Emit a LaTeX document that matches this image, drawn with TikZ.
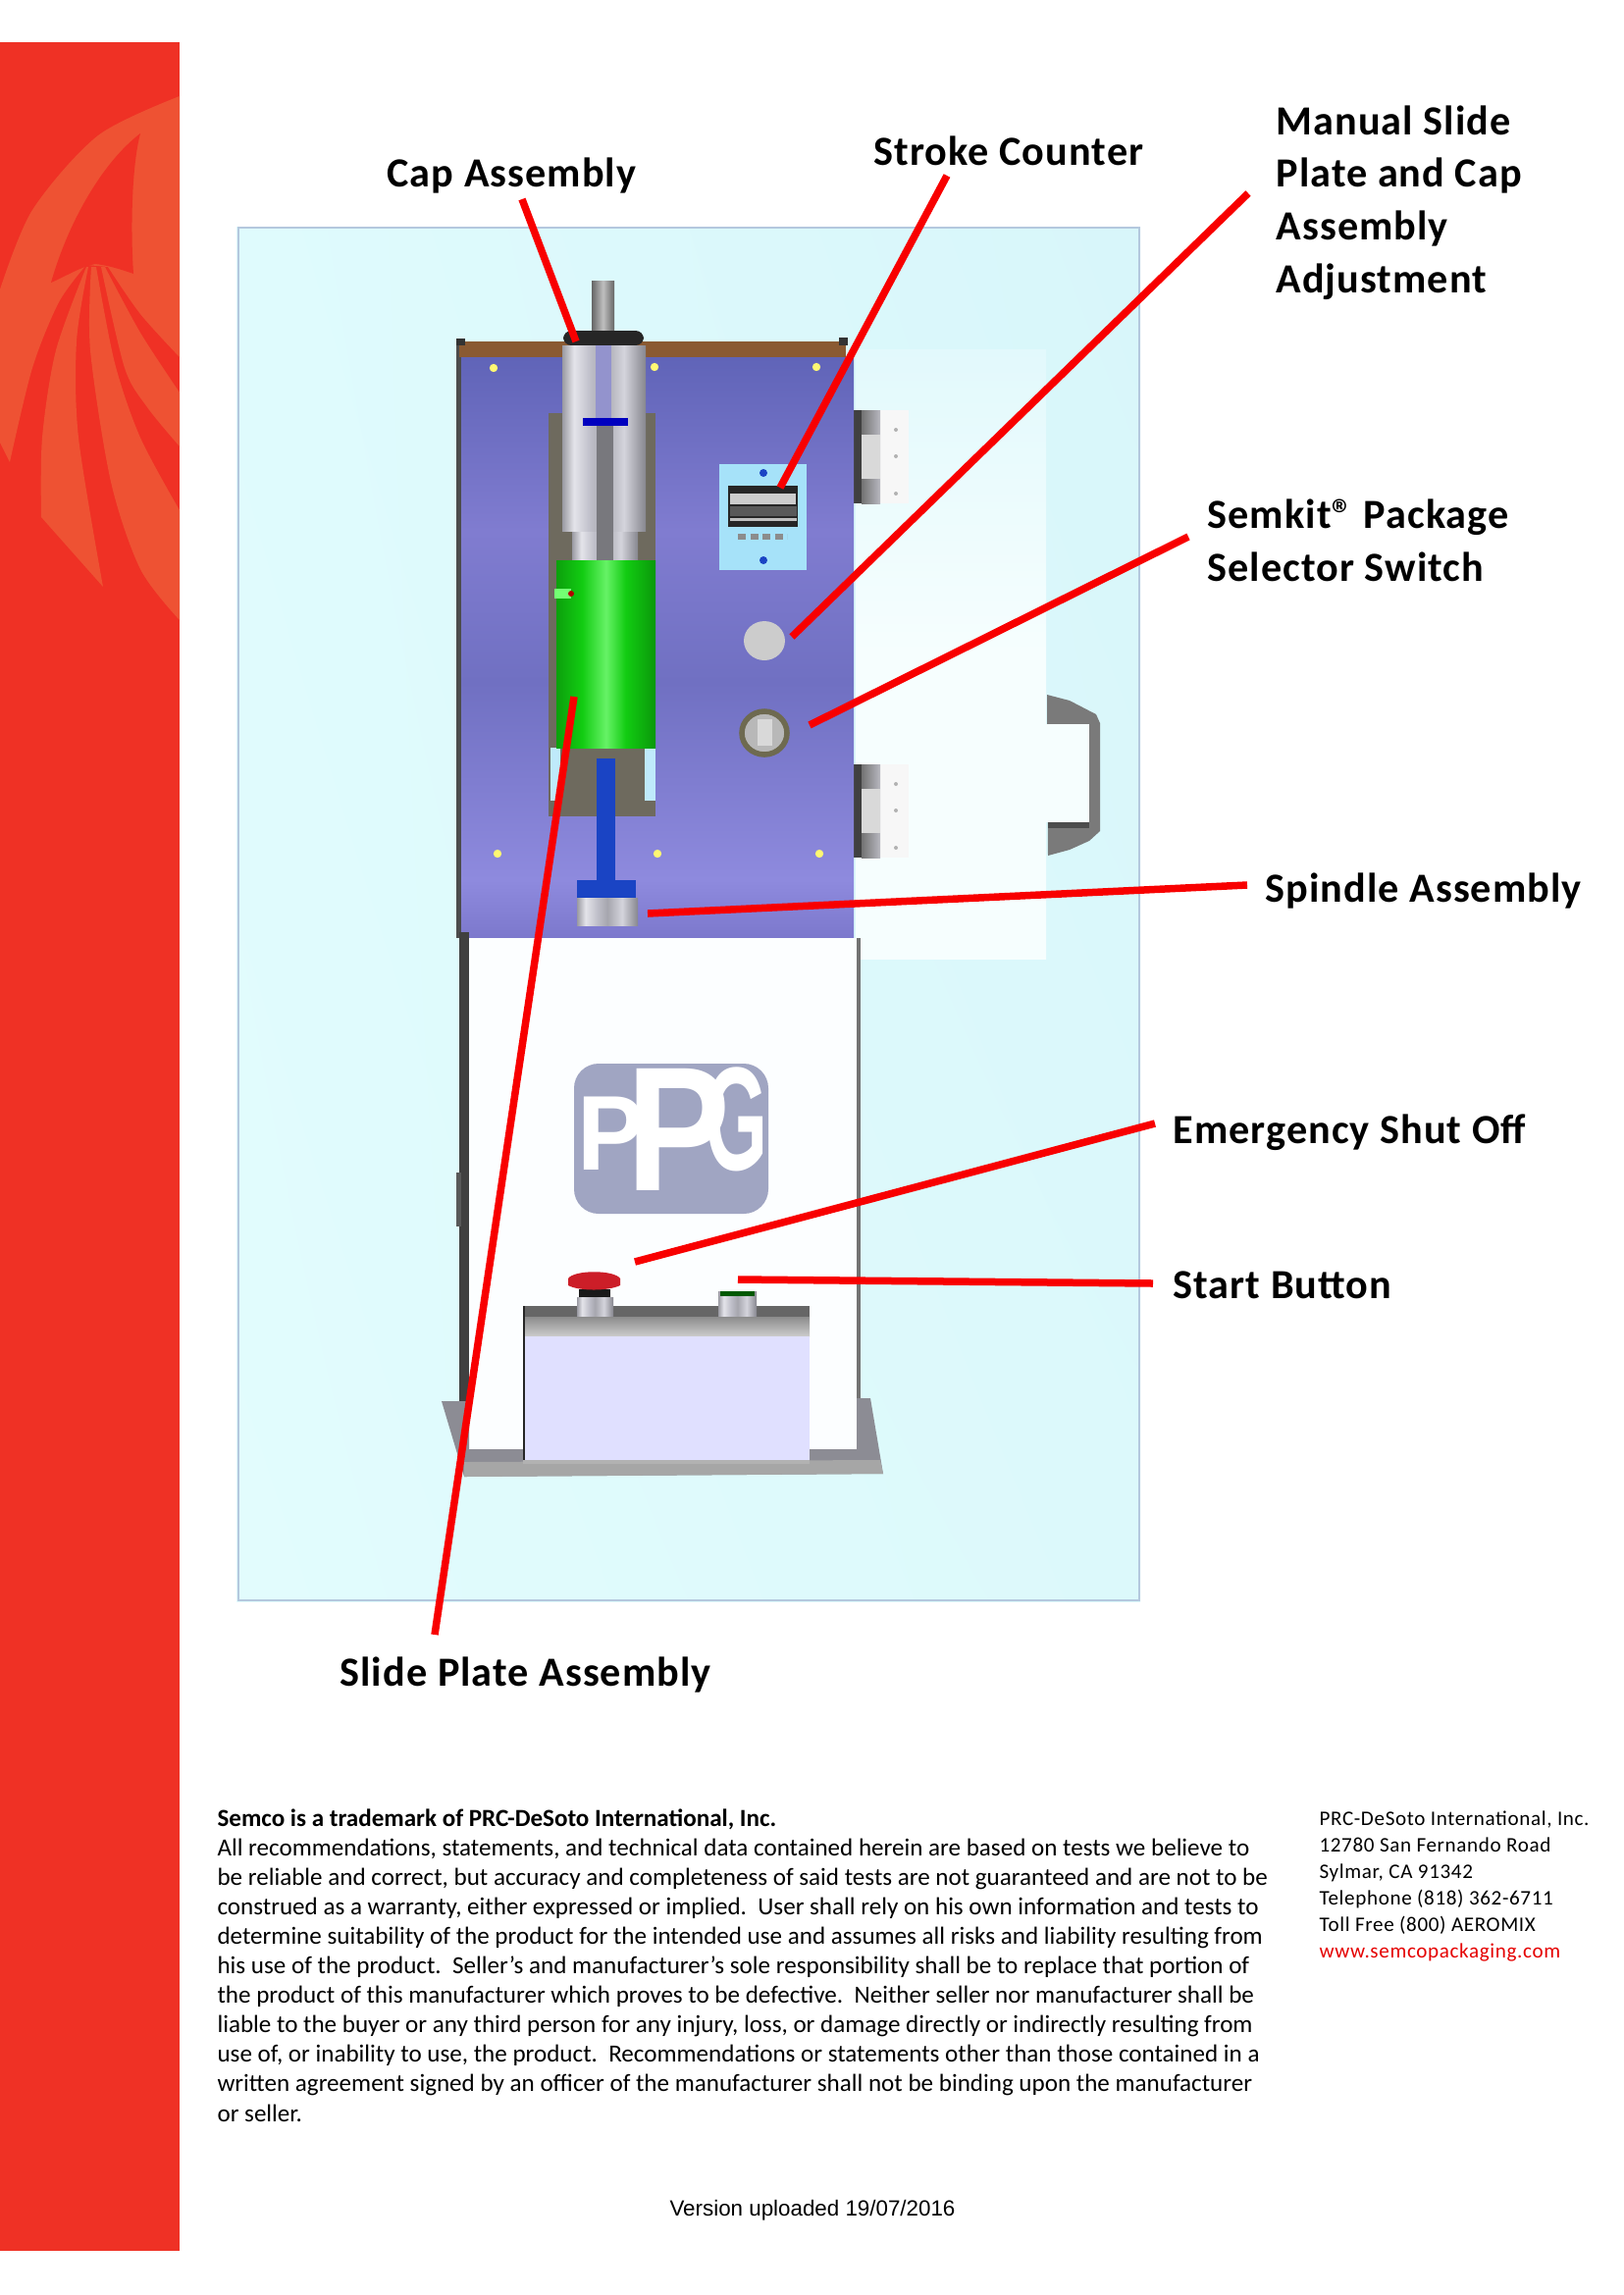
\documentclass[tikz,border=0pt]{standalone}
\usepackage{fontspec}
\usetikzlibrary{shadings}
\setmainfont{Carlito}
\newfontfamily\calloutfont[LetterSpace=2.5]{Carlito}
\newfontfamily\addressfont[LetterSpace=3]{Carlito}
\newfontfamily\versionfont{Liberation Sans}
\definecolor{bandred}{HTML}{EF3125}
\definecolor{bandlight}{HTML}{EE5233}
\definecolor{leadred}{HTML}{F80000}
\definecolor{frameblue}{HTML}{B4C8DE}
\definecolor{brown}{HTML}{8A5A32}
\definecolor{slotgrey}{HTML}{6E6A5E}
\definecolor{steel}{HTML}{B8B8C0}
\definecolor{basegrey}{HTML}{8C8C94}
\definecolor{logogrey}{HTML}{A0A5C2}
\definecolor{spindleblue}{HTML}{1A44C4}
\definecolor{stopred}{HTML}{CC1E28}
\definecolor{selectring}{HTML}{6E6A50}
\definecolor{skyA}{HTML}{DFFBFD}
\definecolor{skyB}{HTML}{D8F6FA}
\definecolor{skyC}{HTML}{E2FCFD}
\definecolor{skyD}{HTML}{DCF9FB}
\definecolor{doorA}{HTML}{E2F9FC}
\definecolor{doorB}{HTML}{F6FEFE}
\definecolor{panA}{HTML}{8E8ADE}
\definecolor{panB}{HTML}{7C78CC}
\definecolor{panC}{HTML}{7070C2}
\definecolor{panD}{HTML}{807CD0}
\definecolor{panE}{HTML}{6064B8}
\definecolor{silA}{HTML}{9A9AA2}
\definecolor{silB}{HTML}{E4E4EA}
\definecolor{silC}{HTML}{BEBEC8}
\definecolor{silD}{HTML}{A6A6AE}
\definecolor{silE}{HTML}{D4D4DC}
\definecolor{silF}{HTML}{86868E}
\definecolor{grnA}{HTML}{0CA00C}
\definecolor{grnB}{HTML}{12CC12}
\definecolor{grnC}{HTML}{66F266}
\definecolor{grnD}{HTML}{0A980A}
\pgfdeclareverticalshading{panelshade}{100bp}{color(0bp)=(panA);color(25bp)=(panB);color(30bp)=(panA);color(47bp)=(panC);color(60bp)=(panD);color(75bp)=(panE);color(100bp)=(panE)}
\pgfdeclarehorizontalshading{silvershade}{100bp}{color(0bp)=(silA);color(25bp)=(silA);color(32bp)=(silB);color(42bp)=(silC);color(50bp)=(silD);color(62bp)=(silE);color(75bp)=(silF);color(100bp)=(silF)}
\pgfdeclarehorizontalshading{greenshade}{100bp}{color(0bp)=(grnA);color(25bp)=(grnA);color(38bp)=(grnB);color(50bp)=(grnC);color(60bp)=(grnB);color(75bp)=(grnD);color(100bp)=(grnD)}
\tikzset{
  callout/.style={font=\calloutfont\bfseries\fontsize{15.2}{19.3}\selectfont, text=black,
    anchor=base west, align=left, inner sep=0pt},
  leader/.style={draw=leadred, line width=2.7pt},
  petal/.style={fill=bandlight, draw=none},
  part/.style={draw=none},
  metal/.style={draw=none, shading=silvershade},
  screwdot/.style={circle, fill=#1, inner sep=0pt, minimum size=3pt},
  logoletter/.style={font=\versionfont\bfseries\fontsize{#1}{#1}\selectfont, text=white, anchor=base west, inner sep=0pt},
}
\begin{document}
\begin{tikzpicture}[x=0.36pt, y=-0.36pt]
  \useasboundingbox (0,0) rectangle (1654,2339);
  \fill[white] (0,0) rectangle (1654,2339);
  % ===================== red band and its emblem =====================
  \fill[bandred] (0,43) rectangle (183,2294);
  \begin{scope}
    \clip (0,43) rectangle (183,2294);
    \fill[petal] plot[smooth] coordinates {(183,98) (100,138) (33,214) (0,295)} -- (0,451) -- (10,471)
      -- plot[smooth] coordinates {(10,471) (33,375) (60,308) (88,270)}
      -- plot[smooth] coordinates {(110,272) (143,320) (183,364)} -- cycle;
    \fill[petal] plot[smooth] coordinates {(88,272) (57,357) (43,446) (42,527)} -- (105,598)
      -- plot[smooth] coordinates {(105,598) (80,446) (78,348) (90,272)} -- cycle;
    \fill[petal] plot[smooth] coordinates {(93,272) (92,357) (113,491) (143,580) (183,632)} -- (183,520)
      -- plot[smooth] coordinates {(183,520) (143,446) (117,370) (98,272)} -- cycle;
    \fill[petal] plot[smooth] coordinates {(103,272) (127,375) (150,415) (183,455)} -- (183,400)
      -- plot[smooth] coordinates {(183,400) (143,339) (107,272)} -- cycle;
    \fill[bandred] (143,136) .. controls (134,170) and (133,235) .. (136,279)
      .. controls (122,274) and (108,270) .. (97,269) .. controls (82,272) and (66,282) .. (52,288)
      .. controls (70,225) and (105,165) .. (143,136) -- cycle;
  \end{scope}

  % ===================== photo panel =====================
  \shade[upper left=skyA, upper right=skyB, lower left=skyC, lower right=skyD]
    (241,231) rectangle (1162,1632);
  \shade[top color=doorA, bottom color=doorB, middle color=doorB] (872,356) rectangle (1066,977);
  \draw[frameblue, line width=0.9pt] (243,232) rectangle (1161,1631);

  % door hinges, handle
  \foreach \y in {418,779}{
    \fill[black!3] (895,\y) rectangle (926,\y+95);
    \foreach \d in {20,47,85}
      \fill[black!30] (913,\y+\d) circle (2);
    \fill[black!75] (868,\y) rectangle (878,\y+95);
    \shade[part, left color=black!55, right color=steel] (878,\y) rectangle (897,\y+95);
    \fill[white!85!black] (878,\y+25) rectangle (897,\y+70);
  }
  \fill[black!52] (1067,708) -- (1090,714) -- (1117,728) -- (1121,737) -- (1121,847) -- (1110,857) -- (1090,866) -- (1068,872) -- cycle;
  \fill[doorB] (1066,738) rectangle (1110,838);
  \fill[black!70] (1068,838) rectangle (1110,844);

  % ===================== upper machine =====================
  \fill[black!70] (465,348) rectangle (470,956);
  \shade[shading=panelshade] (470,364) rectangle (870,956);
  \fill[brown] (468,348) rectangle (862,364);
  \fill[black!80] (465,345) rectangle (474,352);
  \fill[black!80] (855,344) rectangle (864,352);
  \foreach \x/\y in {503/375,667/374,832/374,507/870,670/870,835/870}
    \node[screwdot=yellow!55!white] (screw\x) at (\x,\y) {};

  % counter plate
  \fill[cyan!35!white] (733,473) rectangle (822,581);
  \fill[black!85] (742,495) rectangle (813,537);
  \fill[black!20] (744,503) rectangle (811,514);
  \fill[black!65] (744,516) rectangle (812,526);
  \fill[black!25] (744,528) rectangle (812,531);
  \draw[black!45, line width=2pt, dash pattern=on 3pt off 1.5pt] (752,547) -- (802,547);
  \fill[spindleblue] (778,482) circle (4);
  \fill[spindleblue] (778,571) circle (4);
  % pushbutton and selector
  \draw[fill=black!20, draw=white!80!black, line width=0.7pt] (779,653) ellipse (20 and 19);
  \draw[fill=black!28, draw=selectring, line width=2pt] (779,747) ellipse (23 and 22);
  \fill[black!15] (772,733) rectangle (787,760);

  % slide slot, cylinder, cap
  \fill[slotgrey] (559,421) rectangle (668,832);
  \shade[left color=black!60, right color=black!60, middle color=black!25] (603,286) rectangle (626,340);
  \fill[black!85, rounded corners=3pt] (574,337) rectangle (656,352);
  \shade[metal] (583,530) rectangle (650,575);
  \shade[metal] (573,352) rectangle (658,541);
  \fill[blue!20!steel] (607,352) rectangle (623,428);
  \fill[black!35!steel] (608,434) rectangle (625,571);
  \fill[blue!75!black] (594,426) rectangle (640,434);
  \fill[cyan!25!white] (561,762) rectangle (571,816);
  \fill[cyan!25!white] (657,762) rectangle (668,816);
  \shade[shading=greenshade] (567,571) rectangle (668,762);
  \fill[green!55!white] (565,600) rectangle (582,610);
  \fill[red!70!black] (582,605) circle (3);

  % spindle
  \fill[spindleblue] (608,773) rectangle (627,899);
  \fill[spindleblue] (588,897) rectangle (648,915);
  \shade[metal] (588,915) rectangle (650,943);

  % ===================== lower machine =====================
  \fill[black!75] (468,950) rectangle (478,1430);
  \fill[black!65] (465,1195) rectangle (470,1250);
  \fill[white!99!cyan] (478,956) rectangle (873,1478);
  \fill[black!55] (873,956) rectangle (877,1478);
  \fill[basegrey] (450,1428) -- (478,1428) -- (478,1477) -- (873,1477) -- (873,1425) -- (887,1425) -- (900,1502) -- (473,1505) -- cycle;
  \fill[black!35] (473,1490) -- (897,1488) -- (900,1502) -- (473,1505) -- cycle;

  % logo
  \fill[logogrey, rounded corners=9pt] (585,1084) rectangle (783,1237);
  \node[logoletter=39] (logoP) at (588,1192) {\scalebox{0.95}[1]{P}};
  \node[logoletter=65] (logoPP) at (638,1213) {\scalebox{0.88}[1]{P}};
  \node[logoletter=54] (logoG) at (718,1192) {\scalebox{0.55}[1]{G}};

  % button box
  \fill[black!60] (533,1331) rectangle (825,1342);
  \shade[top color=black!45, bottom color=black!20] (533,1342) rectangle (825,1362);
  \fill[white!88!blue] (533,1362) rectangle (825,1490);
  \fill[black!85] (533,1331) rectangle (535,1490);
  \fill[black!30] (533,1488) rectangle (825,1492);
  \shade[metal] (588,1322) rectangle (625,1341);
  \fill[black!90] (590,1314) rectangle (622,1322);
  \fill[stopred] (579,1303) .. controls (585,1294) and (626,1294) .. (632,1303) -- (632,1310) .. controls (620,1316) and (590,1316) .. (579,1310) -- cycle;
  \shade[metal] (732,1316) rectangle (771,1341);
  \fill[green!35!black] (734,1316) rectangle (769,1321);

  % ===================== labels =====================
  \node[callout] (capLabel) at (394,190) {Cap Assembly};
  \node[callout] (strokeLabel) at (890,168) {Stroke Counter};
  \node[callout] (manualLabel) at (1300,298) {Manual Slide\\Plate and Cap\\Assembly\\Adjustment};
  \node[callout] (semkitLabel) at (1230,592) {Semkit® Package\\Selector Switch};
  \node[callout] (spindleLabel) at (1289,919) {Spindle Assembly};
  \node[callout] (emergencyLabel) at (1195,1165) {Emergency Shut Off};
  \node[callout] (startLabel) at (1195,1323) {Start Button};
  \node[callout] (slideLabel) at (346,1718) {Slide Plate Assembly};

  % ===================== leaders =====================
  \coordinate (capFrom) at (532,203);     \coordinate (capTo) at (587,348);
  \coordinate (strokeFrom) at (965,179);  \coordinate (strokeTo) at (795,497);
  \coordinate (manualFrom) at (1272,197); \coordinate (manualTo) at (807,649);
  \coordinate (semkitFrom) at (1211,547); \coordinate (semkitTo) at (825,739);
  \coordinate (spindleFrom) at (1271,902);\coordinate (spindleTo) at (660,931);
  \coordinate (slideFrom) at (443,1666);  \coordinate (slideTo) at (585,710);
  \coordinate (stopFrom) at (1177,1145);  \coordinate (stopTo) at (647,1286);
  \coordinate (startFrom) at (1175,1308); \coordinate (startTo) at (752,1304);
  \foreach \n in {cap,stroke,manual,semkit,spindle,slide,stop,start}
    \draw[leader] (\n From) -- (\n To);

  % ===================== footer =====================
  \node[font=\fontsize{9.03}{10.82}\selectfont, anchor=base west, align=left, inner sep=0pt] (legal) at (221,2162) {\textbf{Semco is a trademark of PRC-DeSoto International, Inc.}\\
    All recommendations, statements, and technical data contained herein are based on tests we believe to\\
    be reliable and correct, but accuracy and completeness of said tests are not guaranteed and are not to be\\
    construed as a warranty, either expressed or implied.\ \ User shall rely on his own information and tests to\\
    determine suitability of the product for the intended use and assumes all risks and liability resulting from\\
    his use of the product.\ \ Seller’s and manufacturer’s sole responsibility shall be to replace that portion of\\
    the product of this manufacturer which proves to be defective.\ \ Neither seller nor manufacturer shall be\\
    liable to the buyer or any third person for any injury, loss, or damage directly or indirectly resulting from\\
    use of, or inability to use, the product.\ \ Recommendations or statements other than those contained in a\\
    written agreement signed by an officer of the manufacturer shall not be binding upon the manufacturer\\
    or seller.};
  \node[font=\addressfont\fontsize{7.6}{9.66}\selectfont, anchor=base west, align=left, inner sep=0pt] (address) at (1344,1995) {PRC-DeSoto International, Inc.\\
    12780 San Fernando Road\\
    Sylmar, CA 91342\\
    Telephone (818) 362-6711\\
    Toll Free (800) AEROMIX\\
    \textcolor{red!90!black}{www.semcopackaging.com}};
  \node[font=\versionfont\fontsize{8.05}{10}\selectfont, anchor=base west, inner sep=0pt] (version) at (682,2258) {Version uploaded 19/07/2016};
\end{tikzpicture}
\end{document}
